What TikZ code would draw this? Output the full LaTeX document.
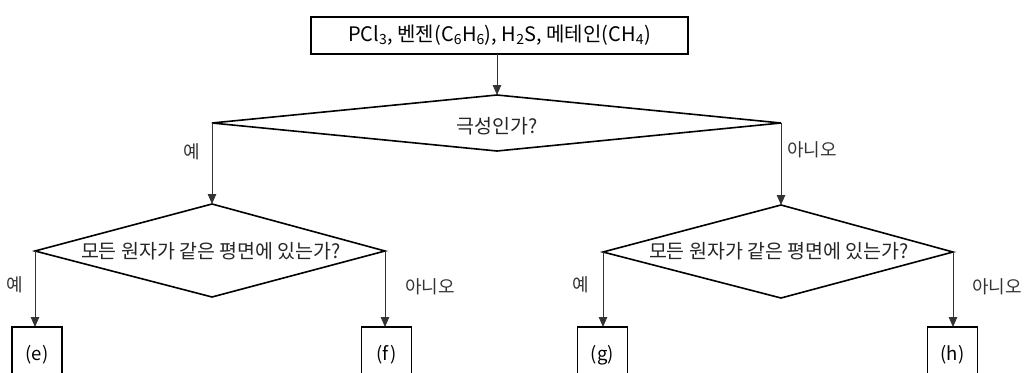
\documentclass[tikz,border=0pt]{standalone}
\usepackage{fontspec}
\setmainfont{Noto Sans CJK KR}
\usetikzlibrary{arrows.meta}
\begin{document}
\begin{tikzpicture}[x=1pt,y=-1pt,
  dec/.style={draw, line width=1.6pt, line join=miter},
  topbox/.style={draw, line width=1.3pt, inner sep=0pt, outer sep=0pt},
  leaf/.style={draw, line width=1.3pt, inner sep=0pt, outer sep=0pt, minimum width=50pt, minimum height=56pt, font=\fontsize{18.5}{20}\selectfont},
  arr/.style={line width=0.8pt, draw=black!80, -{Triangle[length=10pt,width=8.5pt]}},
  lbl/.style={font=\fontsize{18}{20}\selectfont, text=black!80},
  dtxt/.style={font=\fontsize{19.5}{21}\selectfont, text=black!85, inner sep=0pt}]
\useasboundingbox (0,0) rectangle (1033,372);
\clip (0,0) rectangle (1033,372);
\fill[white] (0,0) rectangle (1033,372);
% top box
\node[topbox, minimum width=377pt, minimum height=37pt, font=\fontsize{20}{22}\selectfont] (top) at (499.5,35.5)
  {PCl\textsubscript{3}, 벤젠(C\textsubscript{6}H\textsubscript{6}), H\textsubscript{2}S, 메테인(CH\textsubscript{4})};
% diamond 1 vertices
\coordinate (d1n) at (497,95);
\coordinate (d1e) at (781,123);
\coordinate (d1s) at (497,151);
\coordinate (d1w) at (212,123);
% diamond 2 vertices
\coordinate (d2n) at (212,204);
\coordinate (d2e) at (385,251);
\coordinate (d2s) at (212,297);
\coordinate (d2w) at (35,251);
% diamond 3 vertices
\coordinate (d3n) at (781,205);
\coordinate (d3e) at (953,252);
\coordinate (d3s) at (781,298);
\coordinate (d3w) at (603,252);
\draw[dec] (d1n) -- (d1e) -- (d1s) -- (d1w) -- cycle;
\draw[dec] (d2n) -- (d2e) -- (d2s) -- (d2w) -- cycle;
\draw[dec] (d3n) -- (d3e) -- (d3s) -- (d3w) -- cycle;
\node[dtxt] (t1) at (497,126) {극성인가?};
\node[dtxt] (t2) at (211,251) {모든 원자가 같은 평면에 있는가?};
\node[dtxt] (t3) at (779,251) {모든 원자가 같은 평면에 있는가?};
% leaves
\node[leaf, anchor=north] (e) at (37,327) {(e)};
\node[leaf, anchor=north] (f) at (386.5,327) {(f)};
\node[leaf, anchor=north] (g) at (602.5,327) {(g)};
\node[leaf, anchor=north] (h) at (952.5,327) {(h)};
% connectors
\draw[arr] (top.south -| d1n) -- (d1n);
\draw[arr] (d1w) -- (d2n);
\draw[arr] (d1e) -- (d3n);
\draw[arr] (d2w) -- (d2w |- e.north);
\draw[arr] (d2e) -- (d2e |- f.north);
\draw[arr] (d3w) -- (d3w |- g.north);
\draw[arr] (d3e) -- (d3e |- h.north);
% labels
\node[lbl] (l1) at (192,152) {예};
\node[lbl] (l2) at (812,150) {아니오};
\node[lbl] (l3) at (15,285) {예};
\node[lbl] (l4) at (430,287) {아니오};
\node[lbl] (l5) at (581,285) {예};
\node[lbl] (l6) at (997,287) {아니오};
\end{tikzpicture}
\end{document}
